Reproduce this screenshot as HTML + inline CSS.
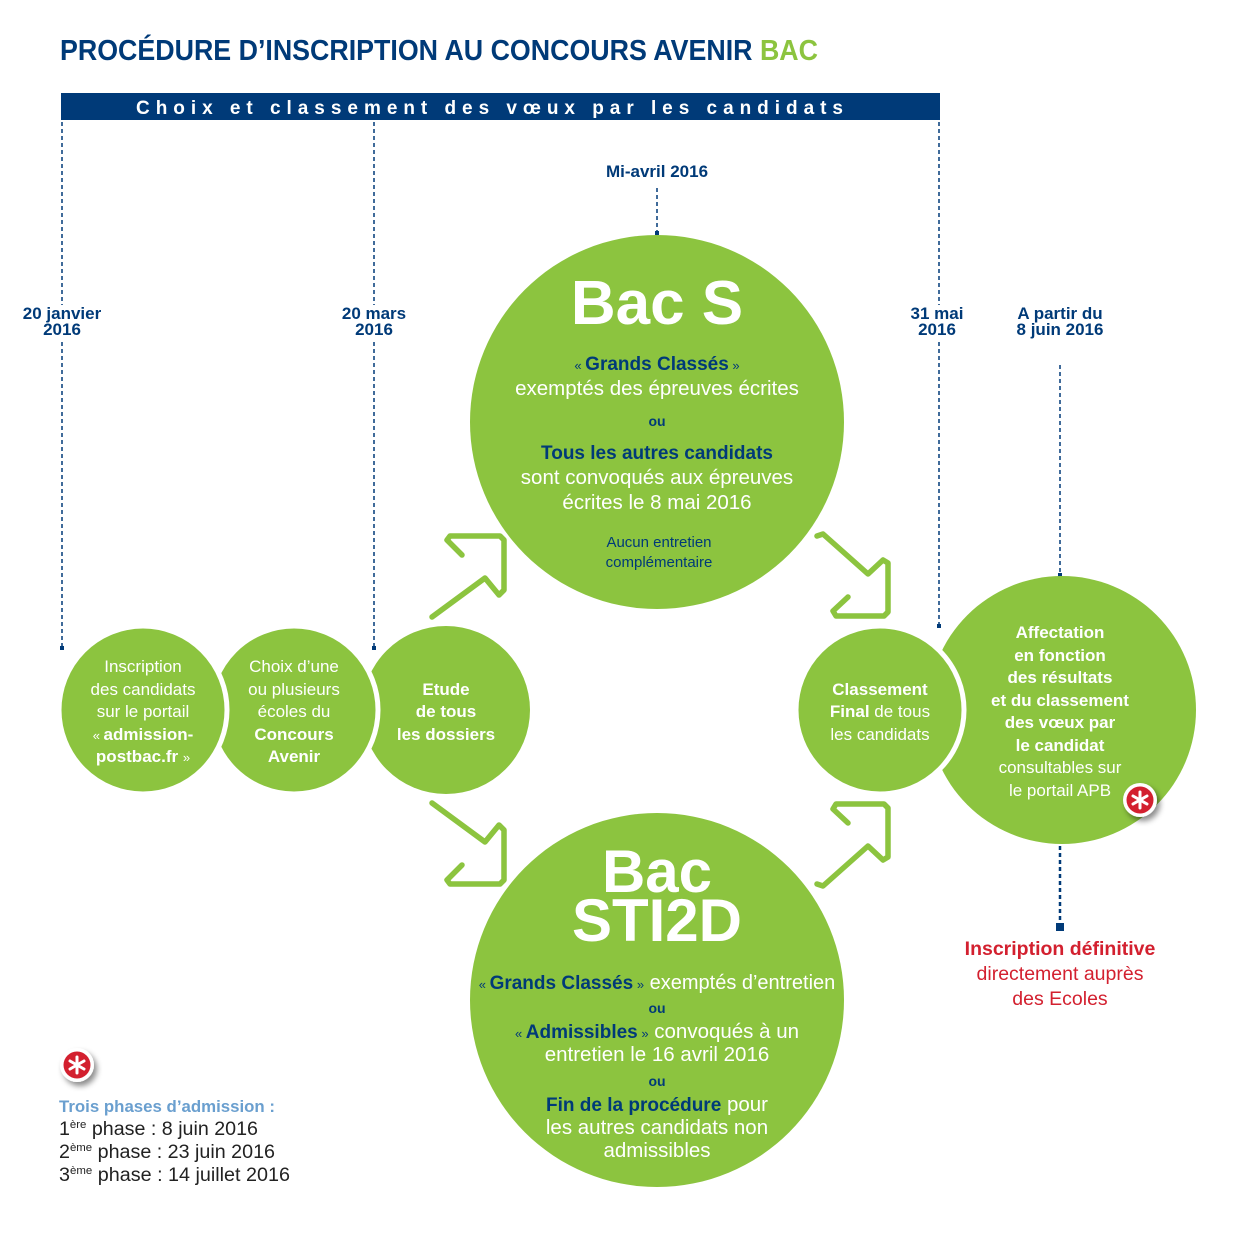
<!DOCTYPE html>
<html><head><meta charset="utf-8"><style>
html,body{margin:0;padding:0;background:#fff;}
svg{display:block;font-family:"Liberation Sans",sans-serif;}
</style></head><body>
<svg width="1240" height="1234" viewBox="0 0 1240 1234" xmlns="http://www.w3.org/2000/svg">
<defs>
<filter id="sh" x="-50%" y="-50%" width="200%" height="200%"><feDropShadow dx="3" dy="4" stdDeviation="3" flood-color="#000" flood-opacity="0.45"/></filter>
</defs>
<text x="60" y="60" font-size="29" font-weight="bold" fill="#003a78" textLength="758" lengthAdjust="spacingAndGlyphs">PROCÉDURE D’INSCRIPTION AU CONCOURS AVENIR <tspan fill="#8cc43f">BAC</tspan></text>
<rect x="61" y="93" width="879" height="27" fill="#003a78"/>
<text x="136" y="114" font-size="19" font-weight="bold" fill="#fff" textLength="707" lengthAdjust="spacing">Choix et classement des vœux par les candidats</text>

<g stroke="#003a78" stroke-width="1.5" stroke-dasharray="4,3" fill="none">
<line x1="62" y1="122" x2="62" y2="305"/><line x1="62" y1="342" x2="62" y2="647"/>
<line x1="374" y1="122" x2="374" y2="305"/><line x1="374" y1="342" x2="374" y2="647"/>
<line x1="939" y1="122" x2="939" y2="305"/><line x1="939" y1="342" x2="939" y2="625"/>
<line x1="657" y1="188" x2="657" y2="233"/>
<line x1="1060" y1="365" x2="1060" y2="575"/>
<line x1="1060" y1="846" x2="1060" y2="924" stroke-width="2.5"/>
</g>
<g fill="#003a78">
<rect x="60" y="646" width="4" height="4"/><rect x="372" y="646" width="4" height="4"/><rect x="937" y="624" width="4" height="4"/><rect x="655" y="231" width="4" height="4"/><rect x="1058" y="573" width="4" height="4"/><rect x="1056" y="923" width="8" height="8"/>
</g>

<g font-size="17" font-weight="bold" fill="#003a78" text-anchor="middle">
<text x="62" y="319">20 janvier</text><text x="62" y="335">2016</text>
<text x="374" y="319">20 mars</text><text x="374" y="335">2016</text>
<text x="937" y="319">31 mai</text><text x="937" y="335">2016</text>
<text x="1060" y="319">A partir du</text><text x="1060" y="335">8 juin 2016</text>
<text x="657" y="177">Mi-avril 2016</text>
</g>

<g fill="#8cc43f">
<circle cx="657" cy="422" r="187"/>
<circle cx="657" cy="1000" r="187"/>
<circle cx="446" cy="710" r="84"/>
<circle cx="294" cy="710" r="84" stroke="#fff" stroke-width="5"/>
<circle cx="143" cy="710" r="84" stroke="#fff" stroke-width="5"/>
<circle cx="1062" cy="710" r="134"/>
<circle cx="880" cy="710" r="84" stroke="#fff" stroke-width="5"/>
</g>

<g fill="none" stroke="#8cc43f" stroke-width="5.5" stroke-linejoin="round" stroke-linecap="round">
<path d="M462,555 L447,540 L450,536 L500,536 L504,540 L504,590 L499,595 L485,578 L432,617"/>
<path d="M462,865 L447,880 L450,884 L500,884 L504,880 L504,830 L499,825 L485,842 L432,803"/>
<path d="M817,536 L823,534 L868,574 L883,560 L888,563 L888,612 L884,616 L836,616 L833,611 L848,597"/>
<path d="M817,884 L823,886 L868,846 L883,860 L888,857 L888,808 L884,804 L836,804 L833,809 L848,823"/>
</g>

<g font-size="17" fill="#fff" text-anchor="middle">
<text x="143" y="672">Inscription</text>
<text x="143" y="695">des candidats</text>
<text x="143" y="717">sur le portail</text>
<text x="143" y="740" font-weight="bold"><tspan font-weight="normal" font-size="13">« </tspan>admission-</text>
<text x="143" y="762" font-weight="bold">postbac.fr <tspan font-weight="normal" font-size="13">»</tspan></text>
<text x="294" y="672">Choix d’une</text>
<text x="294" y="695">ou plusieurs</text>
<text x="294" y="717">écoles du</text>
<text x="294" y="740" font-weight="bold">Concours</text>
<text x="294" y="762" font-weight="bold">Avenir</text>
<text x="446" y="695" font-weight="bold">Etude</text>
<text x="446" y="717" font-weight="bold">de tous</text>
<text x="446" y="740" font-weight="bold">les dossiers</text>
<text x="880" y="695" font-weight="bold">Classement</text>
<text x="880" y="717"><tspan font-weight="bold">Final</tspan> de tous</text>
<text x="880" y="740">les candidats</text>
<g font-weight="bold">
<text x="1060" y="638">Affectation</text>
<text x="1060" y="661">en fonction</text>
<text x="1060" y="683">des résultats</text>
<text x="1060" y="706">et du classement</text>
<text x="1060" y="728">des vœux par</text>
<text x="1060" y="751">le candidat</text>
</g>
<text x="1060" y="773">consultables sur</text>
<text x="1060" y="796">le portail APB</text>
</g>

<g text-anchor="middle" fill="#fff">
<text x="657" y="324" font-size="62" font-weight="bold">Bac S</text>
<text x="657" y="370" font-size="19" font-weight="bold" fill="#003a78"><tspan font-size="13" font-weight="normal">« </tspan>Grands Classés<tspan font-size="13" font-weight="normal"> »</tspan></text>
<text x="657" y="395" font-size="20.5">exemptés des épreuves écrites</text>
<text x="657" y="426" font-size="14" font-weight="bold" fill="#003a78">ou</text>
<text x="657" y="459" font-size="19" font-weight="bold" fill="#003a78">Tous les autres candidats</text>
<text x="657" y="484" font-size="20.5">sont convoqués aux épreuves</text>
<text x="657" y="509" font-size="20.5">écrites le 8 mai 2016</text>
<text x="659" y="547" font-size="15" fill="#003a78">Aucun entretien</text>
<text x="659" y="567" font-size="15" fill="#003a78">complémentaire</text>
</g>

<g text-anchor="middle" fill="#fff">
<text x="657" y="892" font-size="60" font-weight="bold">Bac</text>
<text x="657" y="941" font-size="60" font-weight="bold">STI2D</text>
<text x="657" y="989" font-size="20"><tspan fill="#003a78" font-size="13">« </tspan><tspan fill="#003a78" font-weight="bold" font-size="19">Grands Classés</tspan><tspan fill="#003a78" font-size="13"> »</tspan> exemptés d’entretien</text>
<text x="657" y="1013" font-size="14" font-weight="bold" fill="#003a78">ou</text>
<text x="657" y="1038" font-size="20.5"><tspan fill="#003a78" font-size="13">« </tspan><tspan fill="#003a78" font-weight="bold" font-size="19">Admissibles</tspan><tspan fill="#003a78" font-size="13"> »</tspan> convoqués à un</text>
<text x="657" y="1061" font-size="20.5">entretien le 16 avril 2016</text>
<text x="657" y="1086" font-size="14" font-weight="bold" fill="#003a78">ou</text>
<text x="657" y="1111" font-size="20.5"><tspan fill="#003a78" font-weight="bold" font-size="19">Fin de la procédure</tspan> pour</text>
<text x="657" y="1134" font-size="20.5">les autres candidats non</text>
<text x="657" y="1157" font-size="20.5">admissibles</text>
</g>

<g text-anchor="middle" font-size="19.5" fill="#d3202f">
<text x="1060" y="955" font-weight="bold">Inscription définitive</text>
<text x="1060" y="980">directement auprès</text>
<text x="1060" y="1005">des Ecoles</text>
</g>

<g filter="url(#sh)">
<circle cx="1140" cy="800" r="17" fill="#fff"/>
<circle cx="77" cy="1065" r="17" fill="#fff"/>
</g>
<circle cx="1140" cy="800" r="13.5" fill="#d3202f"/>
<circle cx="77" cy="1065" r="13.5" fill="#d3202f"/>
<g stroke="#fff" stroke-width="3" stroke-linecap="round">
<path d="M1140,792 V808 M1133,796 L1147,804 M1133,804 L1147,796"/>
<path d="M77,1057 V1073 M70,1061 L84,1069 M70,1069 L84,1061"/>
</g>

<text x="59" y="1112" font-size="17" font-weight="bold" fill="#6a9fcf" textLength="216" lengthAdjust="spacingAndGlyphs">Trois phases d’admission :</text>
<g font-size="19" fill="#222">
<text x="59" y="1135" textLength="199" lengthAdjust="spacingAndGlyphs">1<tspan font-size="11" dy="-7">ère</tspan><tspan dy="7"> phase : 8 juin 2016</tspan></text>
<text x="59" y="1158" textLength="216" lengthAdjust="spacingAndGlyphs">2<tspan font-size="11" dy="-7">ème</tspan><tspan dy="7"> phase : 23 juin 2016</tspan></text>
<text x="59" y="1181" textLength="231" lengthAdjust="spacingAndGlyphs">3<tspan font-size="11" dy="-7">ème</tspan><tspan dy="7"> phase : 14 juillet 2016</tspan></text>
</g>
</svg>
</body></html>
